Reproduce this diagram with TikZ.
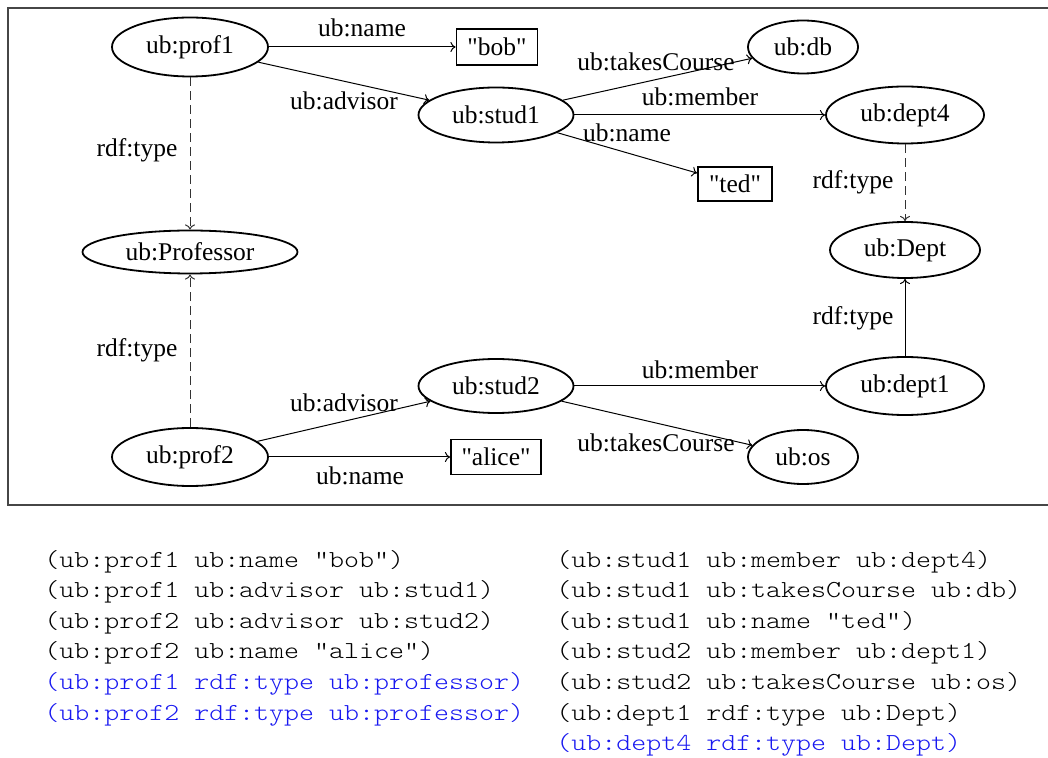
\documentclass[tikz,border=0pt]{standalone}
\usepackage{fontspec}
\setmainfont{Liberation Serif}
\newfontfamily\monofont{lmmonolt10-regular.otf}[FakeStretch=1.17]
\usetikzlibrary{shapes.geometric,arrows.meta}
\definecolor{infblue}{RGB}{25,25,240}
\definecolor{framegray}{RGB}{70,70,70}
\newcommand{\qq}[1]{\textquotedbl#1\textquotedbl}
\begin{document}
\begin{tikzpicture}[x=0.5pt,y=-0.5pt,
  ell/.style={ellipse,draw,line width=0.9pt,inner sep=0pt,font=\fontsize{12.75}{15}\selectfont},
  lit/.style={rectangle,draw,line width=0.9pt,inner sep=0pt,font=\fontsize{12.75}{15}\selectfont},
  lbl/.style={inner sep=0pt,font=\fontsize{12.75}{15}\selectfont},
  rel/.style={line width=0.5pt,-{To[length=2.6pt,width=5pt]}},
  typ/.style={rel,dash pattern=on 4.5pt off 2.5pt,draw=black!80},
  mono/.style={anchor=base west,inner sep=0pt,font=\monofont\fontsize{12.2}{15}\selectfont,text=black},
  inf/.style={mono,text=infblue}]
\useasboundingbox (0,0) rectangle (1048,758);
\draw[framegray,line width=0.85pt] (1048,8) -- (8,8) -- (8,505) -- (1048,505);

% nodes
\node[ell,minimum width=78pt,minimum height=29.5pt] (prof1) at (190,47) {ub:prof1};
\node[lit,minimum width=40.5pt,minimum height=18pt] (bob) at (497,47) {\qq{bob}};
\node[ell,minimum width=77.5pt,minimum height=27.5pt] (stud1) at (496,115) {ub:stud1};
\node[ell,minimum width=55pt,minimum height=26.5pt] (db) at (803,47) {ub:db};
\node[ell,minimum width=79pt,minimum height=28.5pt] (dept4) at (905,115) {ub:dept4};
\node[lit,minimum width=37pt,minimum height=17pt] (ted) at (735,184) {\qq{ted}};
\node[ell,minimum width=107.5pt,minimum height=21.5pt] (prof) at (190,252) {ub:Professor};
\node[ell,minimum width=75pt,minimum height=28pt] (dept) at (905,250) {ub:Dept};
\node[ell,minimum width=77.5pt,minimum height=27pt] (stud2) at (496,386) {ub:stud2};
\node[ell,minimum width=79pt,minimum height=29pt] (dept1) at (905,386) {ub:dept1};
\node[ell,minimum width=78pt,minimum height=29pt] (prof2) at (190,457) {ub:prof2};
\node[lit,minimum width=45pt,minimum height=17.5pt] (alice) at (496,457) {\qq{alice}};
\node[ell,minimum width=55pt,minimum height=27pt] (os) at (803,457) {ub:os};

% connectors
\draw[rel] (prof1) -- (bob);
\draw[rel] (prof1) -- (stud1);
\draw[typ] (prof1) -- (prof);
\draw[rel] (stud1) -- (db);
\draw[rel] (stud1) -- (dept4);
\draw[rel] (stud1) -- (ted);
\draw[typ] (dept4) -- (dept);
\draw[typ] (prof2) -- (prof);
\draw[rel] (prof2) -- (stud2);
\draw[rel] (prof2) -- (alice);
\draw[rel] (stud2) -- (dept1);
\draw[rel] (stud2) -- (os);
\draw[rel] (dept1) -- (dept);

% edge labels
\node[lbl] (l1) at (362,28) {ub:name};
\node[lbl] (l2) at (344,101) {ub:advisor};
\node[lbl] (l3) at (137,150) {rdf:type};
\node[lbl] (l4) at (656,62) {ub:takesCourse};
\node[lbl] (l5) at (700,97) {ub:member};
\node[lbl] (l6) at (627,133) {ub:name};
\node[lbl] (l7) at (853,182) {rdf:type};
\node[lbl] (l8) at (137,350) {rdf:type};
\node[lbl] (l9) at (853,318) {rdf:type};
\node[lbl] (l10) at (700,370) {ub:member};
\node[lbl] (l11) at (344,403) {ub:advisor};
\node[lbl] (l12) at (656,443) {ub:takesCourse};
\node[lbl] (l13) at (360,476) {ub:name};

% triples
\node[mono] (t1) at (44,567) {(ub:prof1 ub:name "bob")};
\node[mono] (t2) at (44,597.6) {(ub:prof1 ub:advisor ub:stud1)};
\node[mono] (t3) at (44,628.2) {(ub:prof2 ub:advisor ub:stud2)};
\node[mono] (t4) at (44,658.8) {(ub:prof2 ub:name "alice")};
\node[inf] (t5) at (44,689.4) {(ub:prof1 rdf:type ub:professor)};
\node[inf] (t6) at (44,720) {(ub:prof2 rdf:type ub:professor)};
\node[mono] (u1) at (556,567) {(ub:stud1 ub:member ub:dept4)};
\node[mono] (u2) at (556,597.6) {(ub:stud1 ub:takesCourse ub:db)};
\node[mono] (u3) at (556,628.2) {(ub:stud1 ub:name "ted")};
\node[mono] (u4) at (556,658.8) {(ub:stud2 ub:member ub:dept1)};
\node[mono] (u5) at (556,689.4) {(ub:stud2 ub:takesCourse ub:os)};
\node[mono] (u6) at (556,720) {(ub:dept1 rdf:type ub:Dept)};
\node[inf] (u7) at (556,750.6) {(ub:dept4 rdf:type ub:Dept)};
\end{tikzpicture}
\end{document}
